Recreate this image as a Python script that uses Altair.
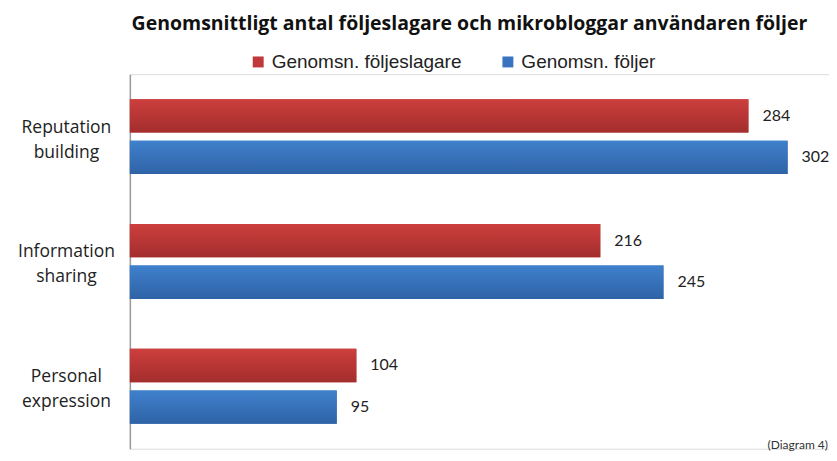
import altair as alt
import pandas as pd

categories = ["Reputation building", "Information sharing", "Personal expression"]
series = ["Genomsn. följeslagare", "Genomsn. följer"]
followers = [284, 216, 104]
following = [302, 245, 95]

rows = []
for c, a, b in zip(categories, followers, following):
    rows.append({"cat": c, "series": series[0], "value": a})
    rows.append({"cat": c, "series": series[1], "value": b})
df = pd.DataFrame(rows)

W, H = 700, 375

yenc = alt.Y("cat:N", sort=categories,
             scale=alt.Scale(paddingInner=0.4, paddingOuter=0.2),
             axis=alt.Axis(title=None, ticks=False, domainColor="#9a9a9a", domainWidth=1.5,
                           labelExpr="split(datum.label, ' ')", labelAlign="center",
                           labelPadding=64, labelFont="Open Sans", labelFontSize=17.5,
                           labelColor="#222222", labelLineHeight=25, labelBaseline="middle",
                           labelOffset=-9))
yoff = alt.YOffset("series:N", sort=series, scale=alt.Scale(paddingInner=0.2, paddingOuter=0))
xenc = alt.X("value:Q", scale=alt.Scale(domain=[0, 321]), axis=None)

base = alt.Chart(df)

flat = base.mark_bar().encode(
    x=xenc, y=yenc, yOffset=yoff,
    color=alt.Color("series:N", sort=series,
                    scale=alt.Scale(domain=series, range=["#c0393a", "#3a74c0"]),
                    legend=alt.Legend(title=None, orient="none", direction="horizontal",
                                      legendX=119, legendY=-22, symbolType="square",
                                      symbolSize=120, symbolStrokeWidth=0,
                                      labelFont="Liberation Sans", labelFontSize=19,
                                      labelColor="#222222", columnPadding=36,
                                      labelLimit=0, symbolOpacity=1)),
)

def grad(top, bottom):
    return alt.Gradient(gradient="linear",
                        stops=[alt.GradientStop(color=top, offset=0),
                               alt.GradientStop(color=bottom, offset=1)],
                        x1=0, x2=0, y1=0, y2=1)

red = base.transform_filter(alt.datum.series == series[0]).mark_bar(
    fill=grad("#cc3f3d", "#a32d2d")).encode(x=xenc, y=yenc, yOffset=yoff)
blue = base.transform_filter(alt.datum.series == series[1]).mark_bar(
    fill=grad("#3f80cc", "#2f63a6")).encode(x=xenc, y=yenc, yOffset=yoff)

labels = base.mark_text(align="left", baseline="middle", dx=14, font="Lato",
                        fontSize=16, color="#222222").encode(
    x=xenc, y=yenc, yOffset=yoff, text=alt.Text("value:Q"))

note = alt.Chart(pd.DataFrame({"t": ["(Diagram 4)"]})).mark_text(
    align="right", baseline="bottom", font="Lato", fontSize=12, color="#333333").encode(
    x=alt.value(W - 1), y=alt.value(H + 3), text="t:N")

chart = alt.layer(flat, red, blue, labels, note).properties(
    width=W, height=H,
    padding={"left": 122, "top": 66, "right": 0, "bottom": 4},
    autosize=alt.AutoSizeParams(type="none"),
    title=alt.TitleParams("Genomsnittligt antal följeslagare och mikrobloggar användaren följer",
                          font="Open Sans", fontSize=19.5, fontWeight="bold", color="#111111",
                          anchor="middle", dx=-10, offset=18),
).configure_view(stroke=None).configure(background="white")

chart.save("out.html", embed_options={"renderer": "svg", "actions": False})
